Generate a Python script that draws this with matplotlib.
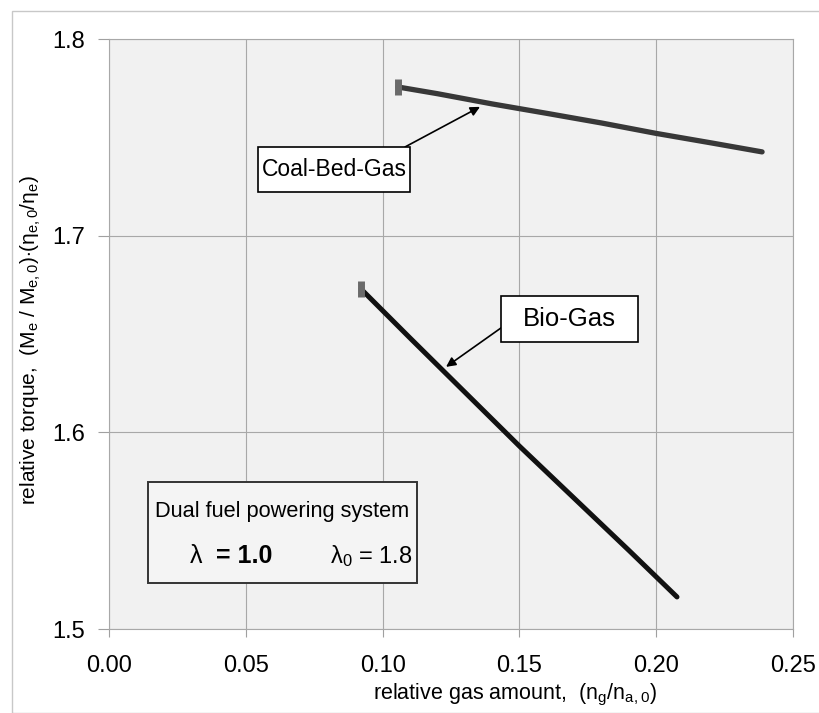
import numpy as np
import matplotlib.pyplot as plt
from matplotlib.patches import Rectangle

plt.rcParams['font.family'] = ['Liberation Sans', 'DejaVu Sans']
plt.rcParams['mathtext.fontset'] = 'custom'
plt.rcParams['mathtext.rm'] = 'Liberation Sans'
plt.rcParams['mathtext.it'] = 'Liberation Sans:italic'

coal_x = [0.1056, 0.120, 0.140, 0.160, 0.180, 0.200, 0.220, 0.2387]
coal_y = [1.7756, 1.7722, 1.7670, 1.7622, 1.7573, 1.7520, 1.7472, 1.7426]
bio_x = [0.0921, 0.110, 0.130, 0.150, 0.170, 0.190, 0.2076]
bio_y = [1.6729, 1.6480, 1.6205, 1.5930, 1.5665, 1.5400, 1.5163]
xticks = [0.00, 0.05, 0.10, 0.15, 0.20, 0.25]
yticks = [1.5, 1.6, 1.7, 1.8]

fig = plt.figure(figsize=(8.2, 7.13), dpi=100)
fig.patches.append(Rectangle((12 / 820, 0), 1, 1 - 11 / 713, transform=fig.transFigure,
                             fill=False, ec='#c8c8c8', lw=1))
ax = fig.add_axes([109 / 820, 1 - 629 / 713, 684 / 820, 590 / 713])
ax.set_facecolor('#f1f1f1')

ax.plot(coal_x, coal_y, color='#383838', lw=3.8, solid_capstyle='round')
ax.plot(bio_x, bio_y, color='#111111', lw=3.6, solid_capstyle='round')
# start markers
ax.plot([coal_x[0]], [coal_y[0]], marker='|', ms=11, mew=5, color='#6a6a6a')
ax.plot([bio_x[0]], [bio_y[0]], marker='|', ms=11, mew=5, color='#6a6a6a')

ax.set_xlim(0, 0.25)
ax.set_ylim(1.5, 1.8)
ax.set_xticks(xticks)
ax.set_yticks(yticks)
ax.set_xticklabels([f'{v:.2f}' for v in xticks], fontsize=17)
ax.set_yticklabels([f'{v:.1f}' for v in yticks], fontsize=17)
ax.tick_params(axis='x', length=6, width=0.8, color='#a0a0a0', pad=13)
ax.tick_params(axis='y', length=8, width=0.8, color='#a0a0a0', pad=9)
ax.grid(True, color='#a8a8a8', lw=0.8)
ax.set_axisbelow(True)
for s in ax.spines.values():
    s.set_color('#a8a8a8')
    s.set_linewidth(0.8)

ax.set_xlabel(r'relative gas amount,  (n$_{\rm g}$/n$_{\rm a,0}$)', fontsize=15.5)
ax.xaxis.set_label_coords(0.594, -0.09)
ax.set_ylabel(r'relative torque,  (M$_{\rm e}$ / M$_{\rm e,0}$)$\cdot$(η$_{\rm e,0}$/η$_{\rm e}$)',
              fontsize=15)
ax.yaxis.set_label_coords(-0.097, 0.49)

# label boxes
ax.add_patch(Rectangle((0.0545, 1.7222), 0.0555, 0.0229, fc='white', ec='black',
                       lw=1.2, zorder=4))
ax.text(0.08225, 1.7336, 'Coal-Bed-Gas', fontsize=16.5, ha='center', va='center', zorder=5)
ax.add_patch(Rectangle((0.1433, 1.6460), 0.0500, 0.0233, fc='white', ec='black',
                       lw=1.2, zorder=4))
ax.text(0.1683, 1.6574, 'Bio-Gas', fontsize=18.5, ha='center', va='center', zorder=5)
arrow = dict(arrowstyle='-|>', color='black', lw=1.2, shrinkA=0, shrinkB=0,
             mutation_scale=14)
ax.annotate('', xy=(0.1356, 1.7655), xytext=(0.1082, 1.7451), arrowprops=arrow)
ax.annotate('', xy=(0.1232, 1.6333), xytext=(0.1433, 1.6531), arrowprops=arrow)

ax.add_patch(Rectangle((0.0142, 1.5235), 0.0983, 0.0510, fc='#f4f4f4', ec='#333333',
                       lw=1.4, zorder=4))
ax.text(0.0633, 1.5595, 'Dual fuel powering system', fontsize=15.7, ha='center',
        va='center', zorder=5)
ax.text(0.0296, 1.5372, 'λ', fontsize=18, ha='left', va='center', zorder=5)
ax.text(0.0391, 1.5372, '= 1.0', fontsize=18, fontweight='bold', ha='left',
        va='center', zorder=5)
ax.text(0.0808, 1.5372, r'λ$_0$ = 1.8', fontsize=17, ha='left', va='center', zorder=5)

fig.savefig('out.png', dpi=100)
